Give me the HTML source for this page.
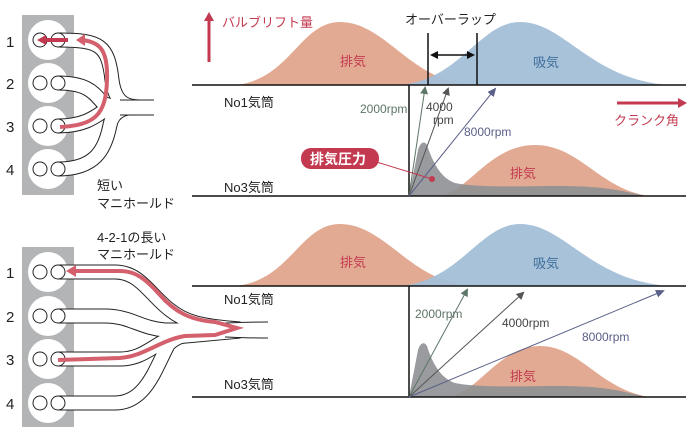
<!DOCTYPE html>
<html><head><meta charset="utf-8"><style>
html,body{margin:0;padding:0;background:#fff;}
svg text{font-family:"Liberation Sans","Noto Sans CJK JP",sans-serif;}
</style></head><body>
<svg width="695" height="435" viewBox="0 0 695 435" xmlns="http://www.w3.org/2000/svg">
<defs>
<marker id="ag" markerWidth="8" markerHeight="8" refX="6" refY="4" orient="auto" markerUnits="userSpaceOnUse"><path d="M0,0 L8,4 L0,8 Z" fill="#5d7565"/></marker>
<marker id="ad" markerWidth="8" markerHeight="8" refX="6" refY="4" orient="auto" markerUnits="userSpaceOnUse"><path d="M0,0 L8,4 L0,8 Z" fill="#555"/></marker>
<marker id="ab" markerWidth="9" markerHeight="8" refX="7" refY="4" orient="auto" markerUnits="userSpaceOnUse"><path d="M0,0 L9,4 L0,8 Z" fill="#5a6088"/></marker>
</defs>

<!-- ===== TOP LEFT ENGINE ===== -->
<rect x="22" y="15" width="52" height="180" fill="#b3b4b6"/>
<g fill="#fff"><circle cx="48" cy="40" r="20"/><circle cx="48" cy="83" r="20"/><circle cx="48" cy="126" r="20"/><circle cx="48" cy="169" r="20"/></g>
<g fill="none" stroke="#222" stroke-width="15">
<path d="M58,40 C100,40 108,45 112,80 C115,102 125,107 140,107"/>
<path d="M58,83 C90,83 95,95 103,103 C110,107 125,107 140,107"/>
<path d="M58,126 C90,126 100,112 110,107 L140,107"/>
<path d="M58,169 C95,169 105,150 110,125 C113,110 125,107 140,107"/>
</g>
<g fill="none" stroke="#fff" stroke-width="13">
<path d="M58,40 C100,40 108,45 112,80 C115,102 125,107 141,107"/>
<path d="M58,83 C90,83 95,95 103,103 C110,107 125,107 141,107"/>
<path d="M58,126 C90,126 100,112 110,107 L141,107"/>
<path d="M58,169 C95,169 105,150 110,125 C113,110 125,107 141,107"/>
</g>
<rect x="120" y="100.5" width="36" height="14" fill="#fff"/>
<line x1="120" y1="100" x2="154" y2="100" stroke="#222" stroke-width="1"/>
<line x1="120" y1="115" x2="154" y2="115" stroke="#222" stroke-width="1"/>
<g fill="none" stroke="#222" stroke-width="1"><circle cx="40" cy="40" r="7"/><circle cx="58" cy="40" r="7"/><circle cx="40" cy="83" r="7"/><circle cx="58" cy="83" r="7"/><circle cx="40" cy="126" r="7"/><circle cx="58" cy="126" r="7"/><circle cx="40" cy="169" r="7"/><circle cx="58" cy="169" r="7"/></g>
<path d="M60,127 C95,125 106,115 107,80 C108,50 100,42 82,40" fill="none" stroke="#d4606e" stroke-width="4"/>
<path d="M76,40 L85,34 L85,46 Z" fill="#d4606e"/>
<path d="M68,40 L42,40" stroke="#c33a50" stroke-width="4"/>
<path d="M37,40 L46,35 L46,45 Z" fill="#c33a50"/>
<g font-size="15" fill="#222"><text x="6" y="47">1</text><text x="6" y="89">2</text><text x="6" y="132">3</text><text x="6" y="175">4</text></g>
<text x="97" y="190" font-size="13" fill="#222">短い</text>
<text x="97" y="208" font-size="13" fill="#222">マニホールド</text>

<!-- ===== BOTTOM LEFT ENGINE ===== -->
<rect x="22" y="247" width="52" height="180" fill="#b3b4b6"/>
<g fill="#fff"><circle cx="48" cy="272" r="20"/><circle cx="48" cy="316" r="20"/><circle cx="48" cy="359" r="20"/><circle cx="48" cy="403" r="20"/></g>
<g fill="none" stroke="#222" stroke-width="15">
<path d="M58,272 L115,272 C140,272 150,295 170,310 C185,322 200,326 240,329"/>
<path d="M58,316 L105,316 C130,316 140,328 165,330 L240,330"/>
<path d="M58,359 L120,359 C145,359 155,342 175,337 L240,331"/>
<path d="M58,403 L115,403 C145,403 155,370 168,345 C178,333 200,331 240,331"/>
</g>
<g fill="none" stroke="#fff" stroke-width="13">
<path d="M58,272 L115,272 C140,272 150,295 170,310 C185,322 200,326 241,329"/>
<path d="M58,316 L105,316 C130,316 140,328 165,330 L241,330"/>
<path d="M58,359 L120,359 C145,359 155,342 175,337 L241,331"/>
<path d="M58,403 L115,403 C145,403 155,370 168,345 C178,333 200,331 241,331"/>
</g>
<rect x="225" y="323.5" width="45" height="13" fill="#fff"/>
<path d="M225,323 C232,323 236,322 268,322" fill="none" stroke="#222" stroke-width="1"/>
<path d="M225,337 C232,337 236,338 268,338" fill="none" stroke="#222" stroke-width="1"/>
<g fill="none" stroke="#222" stroke-width="1"><circle cx="40" cy="272" r="7"/><circle cx="58" cy="272" r="7"/><circle cx="40" cy="316" r="7"/><circle cx="58" cy="316" r="7"/><circle cx="40" cy="359" r="7"/><circle cx="58" cy="359" r="7"/><circle cx="40" cy="403" r="7"/><circle cx="58" cy="403" r="7"/></g>
<path d="M58,360 L120,358 C145,356 160,340 185,336 L215,335 L237,328 L215,322 C190,320 175,312 160,295 C145,278 135,271 120,271 L76,271" fill="none" stroke="#d4606e" stroke-width="4"/>
<path d="M66,271 L76,265 L76,277 Z" fill="#d4606e"/>
<g font-size="15" fill="#222"><text x="6" y="278">1</text><text x="6" y="322">2</text><text x="6" y="365">3</text><text x="6" y="409">4</text></g>
<text x="97" y="242" font-size="13" fill="#222">4-2-1の長い</text>
<text x="97" y="259" font-size="13" fill="#222">マニホールド</text>

<!-- ===== TOP CHART ===== -->
<path d="M235,85 C290,80 300,22 340,22 C385,22 410,80 470,85 Z" fill="#e2aa92"/>
<path d="M400,85 C460,80 480,22 520,22 C565,22 590,80 670,85 Z" fill="#a3bfd8" opacity="0.95"/>
<line x1="192" y1="85" x2="686" y2="85" stroke="#111" stroke-width="1.5"/>
<line x1="428" y1="33" x2="428" y2="85" stroke="#111" stroke-width="1.5"/>
<line x1="477" y1="33" x2="477" y2="85" stroke="#111" stroke-width="1.5"/>
<line x1="434" y1="55" x2="471" y2="55" stroke="#111" stroke-width="1.5"/>
<path d="M430,55 L438,51 L438,59 Z M475,55 L467,51 L467,59 Z" fill="#111"/>
<text x="405" y="24" font-size="13" fill="#222">オーバーラップ</text>
<text x="340" y="66" font-size="13" fill="#c33a50">排気</text>
<text x="533" y="67" font-size="13" fill="#3f6f9a">吸気</text>
<line x1="209" y1="62" x2="209" y2="20" stroke="#c33a50" stroke-width="3"/>
<path d="M209,12 L204,21 L214,21 Z" fill="#c33a50"/>
<text x="222" y="27" font-size="13" fill="#c33a50">バルブリフト量</text>
<text x="224" y="107" font-size="13" fill="#222">No1気筒</text>
<text x="224" y="192" font-size="13" fill="#222">No3気筒</text>
<path d="M440,196 C470,190 490,145 535,145 C580,145 600,190 650,196 Z" fill="#e2aa92"/>
<path d="M409,196 L418,150 C420,143 424,140 427,145 C432,160 440,178 455,183 C480,188 520,186 560,186 C600,186 620,190 645,196 Z" fill="#8e9094" opacity="0.9"/>
<line x1="409" y1="85" x2="409" y2="196" stroke="#111" stroke-width="1.5"/>
<line x1="192" y1="196" x2="686" y2="196" stroke="#111" stroke-width="1.5"/>
<line x1="409" y1="196" x2="425" y2="88" stroke="#5d7565" stroke-width="1" marker-end="url(#ag)"/>
<line x1="409" y1="196" x2="448" y2="89" stroke="#555" stroke-width="1" marker-end="url(#ad)"/>
<line x1="409" y1="196" x2="495" y2="89" stroke="#5a6088" stroke-width="1" marker-end="url(#ab)"/>
<text x="360" y="113" font-size="12" fill="#5d7565">2000rpm</text>
<text x="426" y="111" font-size="12" fill="#444">4000</text>
<text x="433" y="124" font-size="12" fill="#444">rpm</text>
<text x="464" y="136" font-size="12" fill="#5a6088">8000rpm</text>
<line x1="617" y1="103" x2="680" y2="103" stroke="#c33a50" stroke-width="3"/>
<path d="M687,103 L678,98 L678,108 Z" fill="#c33a50"/>
<text x="614" y="125" font-size="13" fill="#c33a50">クランク角</text>
<line x1="370" y1="160" x2="432" y2="179" stroke="#c33a50" stroke-width="1"/>
<circle cx="432" cy="179" r="3" fill="#c33a50"/>
<rect x="301" y="148" width="78" height="21" rx="10" fill="#c33a50"/>
<text x="310" y="164" font-size="14" font-weight="bold" fill="#fff">排気圧力</text>
<text x="510" y="178" font-size="13" fill="#c33a50">排気</text>

<!-- ===== BOTTOM CHART ===== -->
<path d="M235,286 C290,281 300,224 340,224 C385,224 410,281 470,286 Z" fill="#e2aa92"/>
<path d="M400,286 C460,281 480,224 520,224 C565,224 590,281 670,286 Z" fill="#a3bfd8" opacity="0.95"/>
<line x1="192" y1="286" x2="686" y2="286" stroke="#111" stroke-width="1.5"/>
<text x="340" y="267" font-size="13" fill="#c33a50">排気</text>
<text x="533" y="268" font-size="13" fill="#3f6f9a">吸気</text>
<text x="224" y="304" font-size="13" fill="#222">No1気筒</text>
<text x="224" y="389" font-size="13" fill="#222">No3気筒</text>
<path d="M450,397 C480,390 500,346 540,346 C580,346 600,390 650,397 Z" fill="#e2aa92"/>
<path d="M409,397 L418,350 C420,343 424,341 427,346 C432,362 440,378 455,383 C480,388 520,386 560,386 C600,386 620,390 645,397 Z" fill="#8e9094" opacity="0.9"/>
<line x1="409" y1="286" x2="409" y2="397" stroke="#111" stroke-width="1.5"/>
<line x1="192" y1="397" x2="686" y2="397" stroke="#111" stroke-width="1.5"/>
<line x1="409" y1="397" x2="467" y2="290" stroke="#5d7565" stroke-width="1" marker-end="url(#ag)"/>
<line x1="409" y1="397" x2="523" y2="293" stroke="#555" stroke-width="1" marker-end="url(#ad)"/>
<line x1="409" y1="397" x2="663" y2="291" stroke="#5a6088" stroke-width="1" marker-end="url(#ab)"/>
<text x="415" y="318" font-size="12" fill="#5d7565">2000rpm</text>
<text x="502" y="327" font-size="12" fill="#444">4000rpm</text>
<text x="582" y="341" font-size="12" fill="#5a6088">8000rpm</text>
<text x="510" y="381" font-size="13" fill="#c33a50">排気</text>
</svg>
</body></html>
